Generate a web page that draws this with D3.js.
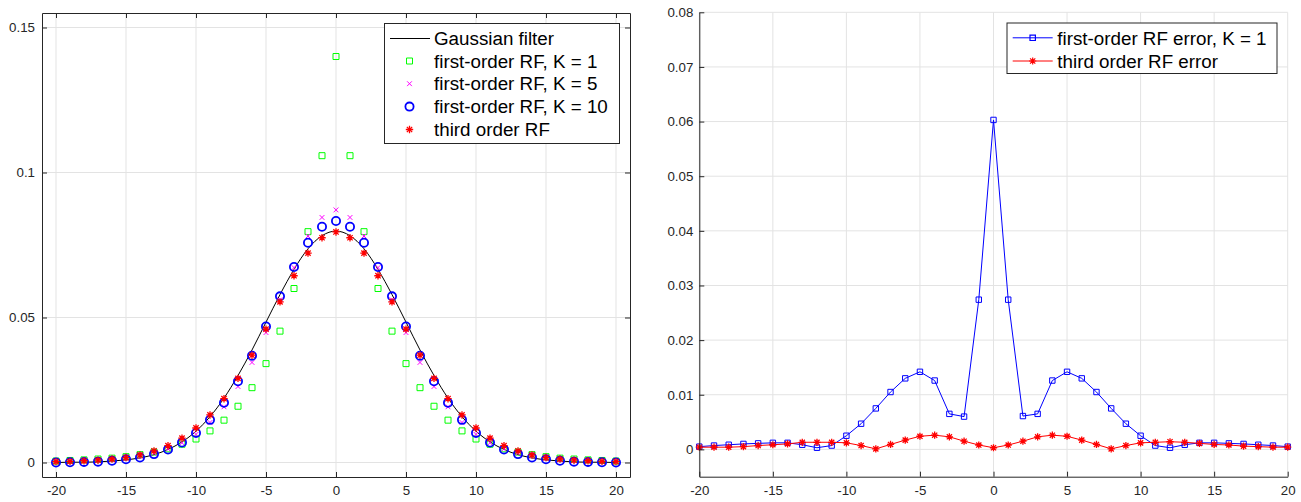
<!DOCTYPE html>
<html>
<head>
<meta charset="utf-8">
<script src="https://cdn.jsdelivr.net/npm/d3@7"></script>
<style>
  body { margin: 0; background: #fff; }
  svg { font-family: "Liberation Sans", Arial, sans-serif; }
  .tick text { fill: #262626; font-size: 13.3px; font-family: "Liberation Sans", Arial, sans-serif; }
  .domain, .tick line { stroke: #262626; }
</style>
</head>
<body>
<svg id="fig" width="1301" height="502"></svg>
<script>
// sample positions
var xVals = [-20,-19,-18,-17,-16,-15,-14,-13,-12,-11,-10,-9,-8,-7,-6,-5,-4,-3,-2,-1,0,
             1,2,3,4,5,6,7,8,9,10,11,12,13,14,15,16,17,18,19,20];

// left plot: filter responses
var gaussFilter = [0.0000,0.0001,0.0001,0.0002,0.0005,0.0009,0.0016,0.0027,0.0045,0.0071,0.0108,0.0158,0.0222,0.0300,0.0388,0.0484,0.0579,0.0666,0.0737,0.0782,0.0798,
                   0.0782,0.0737,0.0666,0.0579,0.0484,0.0388,0.0300,0.0222,0.0158,0.0108,0.0071,0.0045,0.0027,0.0016,0.0009,0.0005,0.0002,0.0001,0.0001,0.0000];
var rfK1 = [0.0005,0.0007,0.0009,0.0012,0.0015,0.0020,0.0027,0.0036,0.0047,0.0063,0.0081,0.0109,0.0146,0.0194,0.0258,0.0341,0.0453,0.0600,0.0796,0.1058,0.1400,
            0.1058,0.0796,0.0600,0.0453,0.0341,0.0258,0.0194,0.0146,0.0109,0.0081,0.0063,0.0047,0.0036,0.0027,0.0020,0.0015,0.0012,0.0009,0.0007,0.0005];
var rfK5 = [0.0002,0.0002,0.0004,0.0006,0.0009,0.0014,0.0021,0.0032,0.0047,0.0068,0.0097,0.0138,0.0192,0.0262,0.0345,0.0448,0.0561,0.0672,0.0781,0.0845,0.0871,
            0.0845,0.0781,0.0672,0.0561,0.0448,0.0345,0.0262,0.0192,0.0138,0.0097,0.0068,0.0047,0.0032,0.0021,0.0014,0.0009,0.0006,0.0004,0.0002,0.0002];
var rfK10 = [0.0000,0.0001,0.0002,0.0003,0.0006,0.0011,0.0017,0.0029,0.0045,0.0069,0.0102,0.0147,0.0206,0.0280,0.0368,0.0469,0.0573,0.0674,0.0758,0.0813,0.0833,
             0.0813,0.0758,0.0674,0.0573,0.0469,0.0368,0.0280,0.0206,0.0147,0.0102,0.0069,0.0045,0.0029,0.0017,0.0011,0.0006,0.0003,0.0002,0.0001,0.0000];
var rf3 = [0.0003,0.0004,0.0006,0.0008,0.0012,0.0017,0.0026,0.0040,0.0058,0.0084,0.0119,0.0164,0.0220,0.0290,0.0370,0.0460,0.0554,0.0644,0.0722,0.0775,0.0795,
           0.0775,0.0722,0.0644,0.0554,0.0460,0.0370,0.0290,0.0220,0.0164,0.0119,0.0084,0.0058,0.0040,0.0026,0.0017,0.0012,0.0008,0.0006,0.0004,0.0003];

// right plot: errors
var errK1 = [0.0005,0.0007,0.00085,0.0010,0.0011,0.0012,0.0012,0.00085,0.0003,0.0007,0.0025,0.0047,0.0075,0.0105,0.0130,0.0142,0.0126,0.0065,0.0060,0.0274,0.0603,
             0.0274,0.0061,0.0065,0.0126,0.0142,0.0130,0.0105,0.0075,0.0047,0.0025,0.0007,0.0003,0.00085,0.0012,0.0012,0.0011,0.0010,0.00085,0.0007,0.0005];
var err3 = [0.0004,0.0004,0.0004,0.0005,0.0007,0.00085,0.0010,0.0013,0.0013,0.0013,0.0012,0.0007,0.0001,0.0009,0.0017,0.0024,0.0026,0.0023,0.0015,0.0008,0.0003,
            0.0008,0.0015,0.0023,0.0026,0.0024,0.0017,0.0009,0.0001,0.0007,0.0012,0.0013,0.0014,0.0013,0.0011,0.0009,0.0008,0.0006,0.0005,0.0004,0.0004];

// ticks
var xTicks = [-20,-15,-10,-5,0,5,10,15,20];
var xTickLabels = ["-20","-15","-10","-5","0","5","10","15","20"];
var yTicksL = [0,0.05,0.1,0.15];
var yTickLabelsL = ["0","0.05","0.1","0.15"];
var yTicksR = [0,0.01,0.02,0.03,0.04,0.05,0.06,0.07,0.08];
var yTickLabelsR = ["0","0.01","0.02","0.03","0.04","0.05","0.06","0.07","0.08"];

var legendL = ["Gaussian filter","first-order RF, K = 1","first-order RF, K = 5","first-order RF, K = 10","third order RF"];
var legendR = ["first-order RF error, K = 1","third order RF error"];

var svg = d3.select("#fig");

// marker paths, r = half size
function marker(type, r) {
  if (type == "square") return "M" + (-r) + "," + (-r) + "h" + (2*r) + "v" + (2*r) + "h" + (-2*r) + "Z";
  if (type == "times") return "M" + (-r) + "," + (-r) + "L" + r + "," + r + "M" + (-r) + "," + r + "L" + r + "," + (-r);
  if (type == "circle") return "M" + r + ",0A" + r + "," + r + " 0 1,1 " + (-r) + ",0A" + r + "," + r + " 0 1,1 " + r + ",0";
  if (type == "star") {
    var d = r * 0.72;
    return "M0," + (-r) + "V" + r + "M" + (-r) + ",0H" + r +
           "M" + (-d) + "," + (-d) + "L" + d + "," + d + "M" + (-d) + "," + d + "L" + d + "," + (-d);
  }
}

function grid(g, x, y, xt, yt) {
  g.selectAll(".gx").data(xt).enter().append("line")
    .attr("x1", d => x(d)).attr("x2", d => x(d))
    .attr("y1", y.range()[0]).attr("y2", y.range()[1])
    .attr("stroke", "#e3e3e3").attr("stroke-width", 1);
  g.selectAll(".gy").data(yt).enter().append("line")
    .attr("y1", d => y(d)).attr("y2", d => y(d))
    .attr("x1", x.range()[0]).attr("x2", x.range()[1])
    .attr("stroke", "#e3e3e3").attr("stroke-width", 1);
}

function points(g, x, y, vals, type, r, color, sw) {
  g.selectAll(null).data(vals).enter().append("path")
    .attr("d", marker(type, r))
    .attr("transform", (d, i) => "translate(" + x(xVals[i]) + "," + y(d) + ")")
    .attr("fill", "none").attr("stroke", color).attr("stroke-width", sw);
}

// ---------- left plot ----------
var xL = d3.scaleLinear().domain([-21, 21]).range([42, 630]);
var yL = d3.scaleLinear().domain([-0.005, 0.155]).range([477, 13]);
var gL = svg.append("g");
grid(gL, xL, yL, xTicks, yTicksL);

gL.append("path")
  .datum(gaussFilter)
  .attr("d", d3.line().x((d, i) => xL(xVals[i])).y(d => yL(d)).curve(d3.curveNatural))
  .attr("fill", "none").attr("stroke", "#000").attr("stroke-width", 1);

points(gL, xL, yL, rfK1, "square", 3, "#00ff00", 1);
points(gL, xL, yL, rfK5, "times", 2.4, "#ff00ff", 1);
points(gL, xL, yL, rfK10, "circle", 4.1, "#0000ff", 1.8);
points(gL, xL, yL, rf3, "star", 3.7, "#ff0000", 1.3);

gL.append("g").attr("transform", "translate(0,477)")
  .call(d3.axisBottom(xL).tickValues(xTicks).tickFormat((d, i) => xTickLabels[i]).tickSizeInner(-5).tickSizeOuter(0).tickPadding(9));
gL.append("g").attr("transform", "translate(0,13)")
  .call(d3.axisTop(xL).tickValues(xTicks).tickFormat("").tickSizeInner(-5).tickSizeOuter(0));
gL.append("g").attr("transform", "translate(42,0)")
  .call(d3.axisLeft(yL).tickValues(yTicksL).tickFormat((d, i) => yTickLabelsL[i]).tickSizeInner(-5).tickSizeOuter(0).tickPadding(7));
gL.append("g").attr("transform", "translate(630,0)")
  .call(d3.axisRight(yL).tickValues(yTicksL).tickFormat("").tickSizeInner(-5).tickSizeOuter(0));
gL.selectAll(".domain, .tick line").attr("stroke-width", 1);

// legend left
var lgL = gL.append("g");
lgL.append("rect").attr("x", 384.5).attr("y", 23.5).attr("width", 235).attr("height", 120)
  .attr("fill", "#fff").attr("stroke", "#262626").attr("stroke-width", 1);
var rowsL = [38.5, 61, 83.7, 106.6, 129.5];
var styL = [
  {t: "line", c: "#000"},
  {t: "square", r: 3, c: "#00ff00", w: 1},
  {t: "times", r: 2.4, c: "#ff00ff", w: 1},
  {t: "circle", r: 4.1, c: "#0000ff", w: 1.8},
  {t: "star", r: 3.7, c: "#ff0000", w: 1.3}
];
legendL.forEach(function (name, i) {
  var s = styL[i];
  if (s.t == "line") {
    lgL.append("line").attr("x1", 390).attr("x2", 430).attr("y1", rowsL[i]).attr("y2", rowsL[i])
      .attr("stroke", s.c).attr("stroke-width", 1);
  } else {
    lgL.append("path").attr("d", marker(s.t, s.r)).attr("transform", "translate(409.5," + rowsL[i] + ")")
      .attr("fill", "none").attr("stroke", s.c).attr("stroke-width", s.w);
  }
  lgL.append("text").attr("x", 434).attr("y", rowsL[i]).attr("dy", "0.36em")
    .attr("font-size", "18.8px").attr("fill", "#000").text(name);
});

// ---------- right plot ----------
var xR = d3.scaleLinear().domain([-20, 20]).range([699.3, 1287.7]);
var yR = d3.scaleLinear().domain([-0.005, 0.08]).range([476.7, 12.3]);
var gR = svg.append("g");
grid(gR, xR, yR, xTicks, yTicksR);

var lineR = d3.line().x((d, i) => xR(xVals[i])).y(d => yR(d));
gR.append("path").datum(errK1).attr("d", lineR)
  .attr("fill", "none").attr("stroke", "#0000ff").attr("stroke-width", 1);
points(gR, xR, yR, errK1, "square", 2.7, "#0000ff", 1);
gR.append("path").datum(err3).attr("d", lineR)
  .attr("fill", "none").attr("stroke", "#ff0000").attr("stroke-width", 1);
points(gR, xR, yR, err3, "star", 3.6, "#ff0000", 1.3);

gR.append("g").attr("transform", "translate(0,476.7)")
  .call(d3.axisBottom(xR).tickValues(xTicks).tickFormat((d, i) => xTickLabels[i]).tickSizeInner(-5).tickSizeOuter(0).tickPadding(9));
gR.append("g").attr("transform", "translate(699.3,0)")
  .call(d3.axisLeft(yR).tickValues(yTicksR).tickFormat((d, i) => yTickLabelsR[i]).tickSizeInner(-5).tickSizeOuter(0).tickPadding(6));

// legend right
var lgR = gR.append("g");
lgR.append("rect").attr("x", 1007).attr("y", 23).attr("width", 270).attr("height", 50.5)
  .attr("fill", "#fff").attr("stroke", "#262626").attr("stroke-width", 1);
var rowsR = [37.8, 61];
var styR = [
  {t: "square", r: 2.7, c: "#0000ff"},
  {t: "star", r: 3.6, c: "#ff0000"}
];
legendR.forEach(function (name, i) {
  var s = styR[i];
  lgR.append("line").attr("x1", 1012.7).attr("x2", 1052.7).attr("y1", rowsR[i]).attr("y2", rowsR[i])
    .attr("stroke", s.c).attr("stroke-width", 1);
  lgR.append("path").attr("d", marker(s.t, s.r)).attr("transform", "translate(1032.7," + rowsR[i] + ")")
    .attr("fill", "none").attr("stroke", s.c).attr("stroke-width", 1.2);
  lgR.append("text").attr("x", 1057.3).attr("y", rowsR[i]).attr("dy", "0.36em")
    .attr("font-size", "18.8px").attr("fill", "#000").text(name);
});
</script>
</body>
</html>
